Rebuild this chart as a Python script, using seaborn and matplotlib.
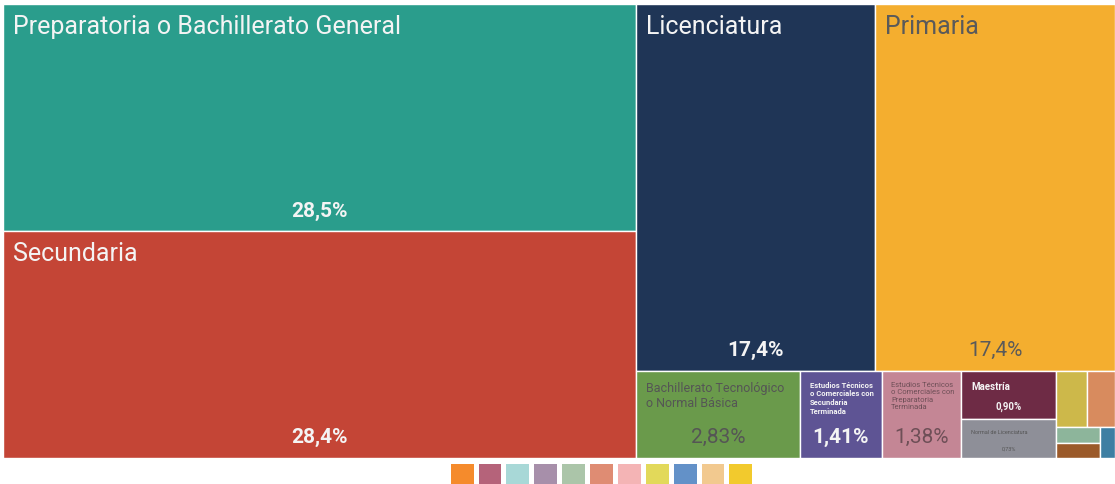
import numpy as np
import matplotlib
matplotlib.use("Agg")
import matplotlib.pyplot as plt
from matplotlib.patches import Rectangle
from matplotlib.colors import ListedColormap
import seaborn as sns

# Données : niveau de scolaridad (% de la población)
categorias = ["Preparatoria o Bachillerato General", "Secundaria", "Licenciatura", "Primaria",
              "Bachillerato Tecnológico o Normal Básica",
              "Estudios Técnicos o Comerciales con Secundaria Terminada",
              "Estudios Técnicos o Comerciales con Preparatoria Terminada",
              "Maestría", "Normal de Licenciatura",
              "otro 1", "otro 2", "otro 3", "otro 4", "otro 5"]
etiquetas = ["Preparatoria o Bachillerato General", "Secundaria", "Licenciatura", "Primaria",
             "Bachillerato Tecnológico\no Normal Básica",
             "Estudios Técnicos\no Comerciales con\nSecundaria\nTerminada",
             "Estudios Técnicos\no Comerciales con\nPreparatoria\nTerminada",
             "Maestría", "Normal de Licenciatura",
             "", "", "", "", ""]
porcentajes = [28.5, 28.4, 17.4, 17.4, 2.83, 1.41, 1.38, 0.90, 0.73,
               0.35, 0.31, 0.14, 0.13, 0.09]
colores = ["#2a9d8c", "#c44536", "#1f3556", "#f4ae2f", "#6a9a4b", "#5e5494", "#c48695",
           "#6e2b45", "#8e8f98", "#cdb84a", "#d88b5e", "#8db59b", "#9b5a2a", "#3e7fa3"]
leyenda_colores = ["#f58b2c", "#b5637a", "#a8d8d7", "#a78faa", "#abc5a9", "#df8c73",
                   "#f4b4b5", "#e2d95a", "#6391c8", "#f2c98f", "#f2ca2d"]

# styles des textes (taille titre, taille %, couleur, gras titre, gras %, interligne)
styles = [(18, 15, "#f4f4f4", "normal", "bold", 1.0),
          (18, 15, "#f4f4f4", "normal", "bold", 1.0),
          (18, 15, "#f4f4f4", "normal", "bold", 1.0),
          (18, 15, "#5a5a5a", "normal", "normal", 1.0),
          (9, 15, "#555555", "normal", "normal", 1.2),
          (5.5, 15, "#f4f4f4", "bold", "bold", 1.3),
          (5.5, 15, "#6e4f57", "normal", "normal", 1.3),
          (7, 7, "#f4f4f4", "bold", "bold", 1.0),
          (4, 4, "#555555", "normal", "normal", 1.0)]

PHI = (1 + 5 ** 0.5) / 2


def squarify(values, x0, y0, x1, y1, ratio=PHI):
    '''treemap squarifié (même logique que d3.treemapSquarify)'''
    rects = []
    total = float(sum(values))
    i0, n = 0, len(values)
    while i0 < n:
        dx, dy = x1 - x0, y1 - y0
        s = values[i0]
        vmin = vmax = s
        alpha = max(dy / dx, dx / dy) / (total * ratio)
        beta = s * s * alpha
        best = max(vmax / beta, beta / vmin)
        i1 = i0 + 1
        while i1 < n:
            v = values[i1]
            mn, mx = min(vmin, v), max(vmax, v)
            beta = (s + v) ** 2 * alpha
            r = max(mx / beta, beta / mn)
            if r > best:
                break
            s, vmin, vmax, best = s + v, mn, mx, r
            i1 += 1
        row = values[i0:i1]
        if dx < dy:
            h = dy * s / total if i1 < n else dy
            xx = x0
            for v in row:
                w = dx * v / s
                rects.append((xx, y0, w, h))
                xx += w
            y0 += h
        else:
            w = dx * s / total if i1 < n else dx
            yy = y0
            for v in row:
                h = dy * v / s
                rects.append((x0, yy, w, h))
                yy += h
            x0 += w
        total -= s
        i0 = i1
    return rects


sns.set_theme(style="white")
plt.rcParams['font.family'] = ['Roboto', 'DejaVu Sans']

W, H = 2.2, 1.0
rects = squarify(porcentajes, 0, 0, W, H)

fig = plt.figure(figsize=(11.15, 4.85), dpi=100)
ax = fig.add_axes([3 / 1115, 26 / 485, 1112 / 1115, 454 / 485])
ax.set_xlim(0, W)
ax.set_ylim(H, 0)
ax.axis("off")

for i, (x, y, w, h) in enumerate(rects):
    ax.add_patch(Rectangle((x, y), w, h, facecolor=colores[i], edgecolor="white", linewidth=1))
    if i >= len(styles):
        continue
    t_size, p_size, col, t_w, p_w, ls = styles[i]
    ax.annotate(etiquetas[i], xy=(x, y), xytext=(7, -7), textcoords="offset points",
                ha="left", va="top", fontsize=t_size, color=col, fontweight=t_w,
                linespacing=ls)
    v = porcentajes[i]
    txt = (f"{v:.1f}" if v >= 10 else f"{v:.2f}").replace(".", ",") + "%"
    ax.annotate(txt, xy=(x + w / 2, y + h), xytext=(0, 4 + 0.5 * p_size),
                textcoords="offset points", ha="center", va="baseline",
                fontsize=p_size, color=col, fontweight=p_w)

# légende (carrés de couleur) avec seaborn
ax_leg = fig.add_axes([447.7 / 1115, -5 / 485, 306.6 / 1115, 28.3 / 485])
sns.heatmap(np.arange(len(leyenda_colores)).reshape(1, -1), ax=ax_leg,
            cmap=ListedColormap(leyenda_colores), cbar=False,
            linewidths=3.3, linecolor="white", xticklabels=False, yticklabels=False)

fig.savefig("out.png", dpi=100)
